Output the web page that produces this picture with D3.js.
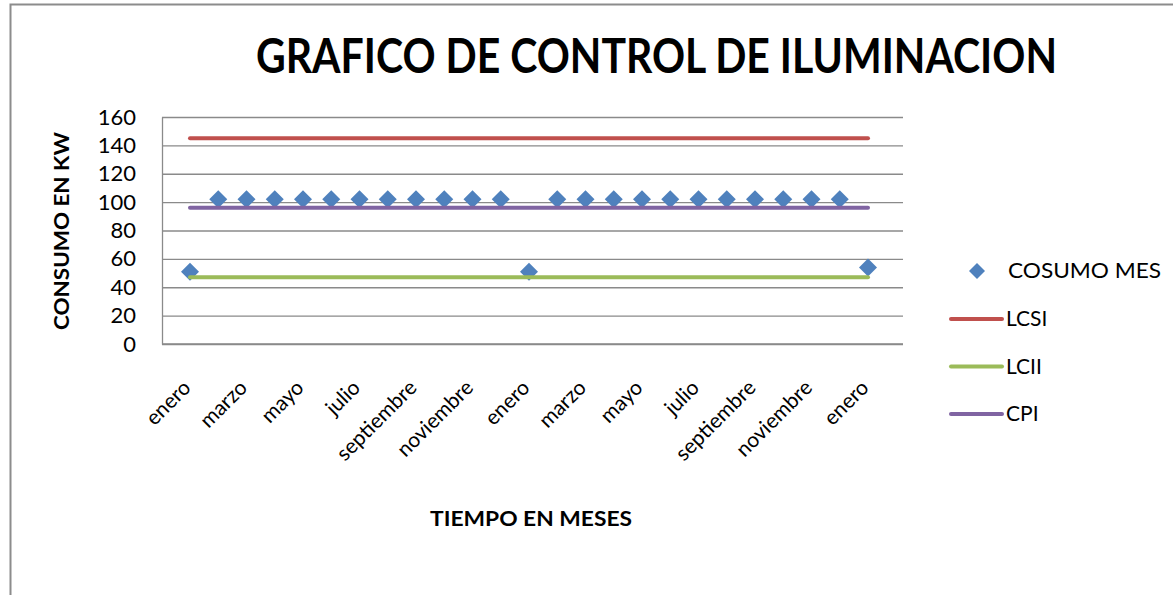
<!DOCTYPE html>
<html>
<head>
<meta charset="utf-8">
<script src="https://cdn.jsdelivr.net/npm/d3@7"></script>
<style>
  body { margin: 0; background: #fff; }
  svg { font-family: Lato, "Open Sans", sans-serif; }
</style>
</head>
<body>
<div id="chart"></div>
<script>
// datos del grafico
var meses = ["enero", "febrero", "marzo", "abril", "mayo", "junio", "julio", "agosto",
             "septiembre", "octubre", "noviembre", "diciembre",
             "enero", "febrero", "marzo", "abril", "mayo", "junio", "julio", "agosto",
             "septiembre", "octubre", "noviembre", "diciembre", "enero"];
var consumoMes = [51, 102, 102, 102, 102, 102, 102, 102, 102, 102, 102, 102,
                  51, 102, 102, 102, 102, 102, 102, 102, 102, 102, 102, 102, 54];
var lcsi = [145, 145, 145, 145, 145, 145, 145, 145, 145, 145, 145, 145,
            145, 145, 145, 145, 145, 145, 145, 145, 145, 145, 145, 145, 145];
var lcii = [47, 47, 47, 47, 47, 47, 47, 47, 47, 47, 47, 47,
            47, 47, 47, 47, 47, 47, 47, 47, 47, 47, 47, 47, 47];
var cpi = [96, 96, 96, 96, 96, 96, 96, 96, 96, 96, 96, 96,
           96, 96, 96, 96, 96, 96, 96, 96, 96, 96, 96, 96, 96];
var yTicks = [0, 20, 40, 60, 80, 100, 120, 140, 160];

var width = 1173;
var height = 595;

var plotLeft = 162, plotRight = 903, plotTop = 117, plotBottom = 344;

var svg = d3.select("#chart")
            .append("svg")
            .attr("width", width)
            .attr("height", height);

// marco
svg.append("path")
   .attr("d", "M10.5," + height + "V4.5H" + width)
   .attr("fill", "none")
   .attr("stroke", "#8c8c8c")
   .attr("stroke-width", 2);

var indices = d3.range(meses.length);

var x = d3.scalePoint()
          .domain(indices)
          .range([190, 868]);

var y = d3.scaleLinear()
          .domain([0, 160])
          .range([plotBottom, plotTop]);

// lineas de la cuadricula
svg.append("g")
   .attr("transform", "translate(" + plotLeft + ",0)")
   .call(d3.axisLeft(y).tickValues(yTicks).tickSize(-(plotRight - plotLeft)).tickFormat(""))
   .call(function(g) { g.select(".domain").remove(); })
   .selectAll("line")
   .attr("stroke", "#8a8a8a")
   .attr("stroke-width", 1.3);

// eje y
var yAxis = svg.append("g")
               .attr("transform", "translate(" + plotLeft + ",0)")
               .call(d3.axisLeft(y).tickValues(yTicks).tickSize(0).tickPadding(26));
yAxis.select(".domain").attr("stroke", "#8a8a8a").attr("stroke-width", 1.3);
yAxis.selectAll("text")
     .attr("font-size", 22)
     .attr("font-family", "Lato, sans-serif")
     .attr("fill", "#000");

// eje x (linea inferior)
svg.append("line")
   .attr("x1", plotLeft)
   .attr("x2", plotRight)
   .attr("y1", y(0))
   .attr("y2", y(0))
   .attr("stroke", "#8a8a8a")
   .attr("stroke-width", 1.3);

// etiquetas del eje x, una si y otra no
svg.append("g")
   .selectAll("text")
   .data(indices.filter(function(i) { return i % 2 === 0; }))
   .enter()
   .append("text")
   .attr("transform", function(i) { return "translate(" + (x(i) + 2) + "," + (y(0) + 45) + ") rotate(-45)"; })
   .attr("text-anchor", "end")
   .attr("font-size", 21)
   .text(function(i) { return meses[i]; });

// puntos del consumo (rombos)
function rombo(cx, cy, r) {
    return "M" + cx + "," + (cy - r) + "L" + (cx + r) + "," + cy + "L" + cx + "," + (cy + r) + "L" + (cx - r) + "," + cy + "Z";
}

svg.append("g")
   .selectAll("path")
   .data(consumoMes)
   .enter()
   .append("path")
   .attr("d", function(d, i) { return rombo(x(i), y(d), 9); })
   .attr("fill", "#4f81bd");

// lineas de control
var series = [
    { nombre: "LCSI", valores: lcsi, color: "#c0504d" },
    { nombre: "LCII", valores: lcii, color: "#9bbb59" },
    { nombre: "CPI", valores: cpi, color: "#8064a2" }
];

var linea = d3.line()
              .x(function(d, i) { return x(i); })
              .y(function(d) { return y(d); });

svg.append("g")
   .selectAll("path")
   .data(series)
   .enter()
   .append("path")
   .attr("d", function(s) { return linea(s.valores); })
   .attr("fill", "none")
   .attr("stroke", function(s) { return s.color; })
   .attr("stroke-width", 4)
   .attr("stroke-linecap", "round");

// titulo
svg.append("text")
   .attr("x", 256)
   .attr("y", 73)
   .attr("font-size", 47)
   .attr("font-weight", "bold")
   .attr("textLength", 801)
   .attr("lengthAdjust", "spacingAndGlyphs")
   .text("GRAFICO DE CONTROL DE ILUMINACION");

// titulos de ejes
svg.append("text")
   .attr("transform", "translate(69,231) rotate(-90)")
   .attr("text-anchor", "middle")
   .attr("font-size", 21)
   .attr("font-weight", "bold")
   .attr("textLength", 198)
   .attr("lengthAdjust", "spacingAndGlyphs")
   .text("CONSUMO EN KW");

svg.append("text")
   .attr("x", 430)
   .attr("y", 526)
   .attr("font-size", 20)
   .attr("font-weight", "bold")
   .attr("textLength", 202)
   .attr("lengthAdjust", "spacingAndGlyphs")
   .text("TIEMPO EN MESES");

// leyenda
var leyenda = svg.append("g");

leyenda.append("path")
       .attr("d", rombo(977, 271, 8))
       .attr("fill", "#4f81bd");
leyenda.append("text")
       .attr("x", 1008)
       .attr("y", 271)
       .attr("dy", "0.35em")
       .attr("font-size", 21)
       .attr("textLength", 153)
       .attr("lengthAdjust", "spacingAndGlyphs")
       .text("COSUMO MES");

var itemLeyenda = leyenda.selectAll("g.item")
                         .data(series)
                         .enter()
                         .append("g")
                         .classed("item", true)
                         .attr("transform", function(s, i) { return "translate(0," + (319 + i * 47.5) + ")"; });

itemLeyenda.append("line")
           .attr("x1", 951)
           .attr("x2", 1002)
           .attr("stroke", function(s) { return s.color; })
           .attr("stroke-width", 4)
           .attr("stroke-linecap", "round");

itemLeyenda.append("text")
           .attr("x", 1006)
           .attr("dy", "0.35em")
           .attr("font-size", 21)
           .text(function(s) { return s.nombre; });
</script>
</body>
</html>
